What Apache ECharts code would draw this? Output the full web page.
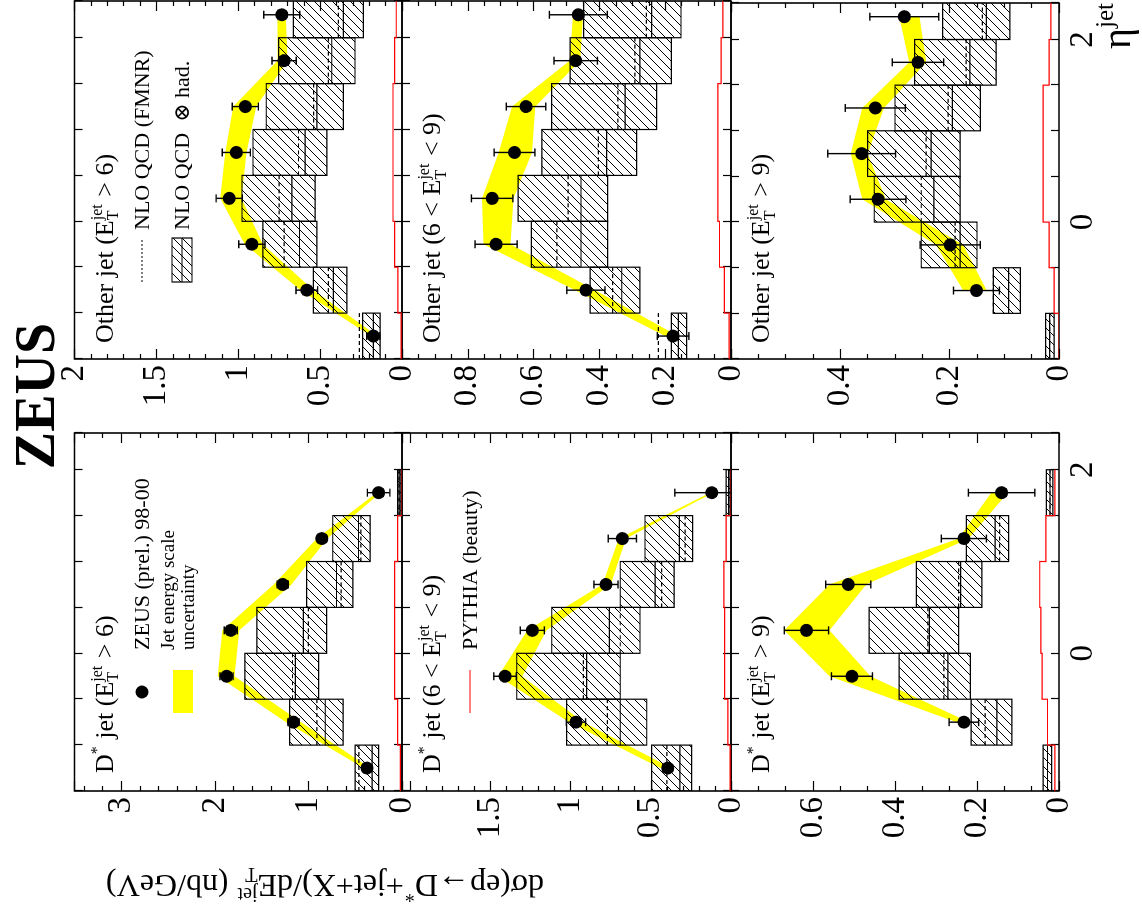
<!DOCTYPE html>
<html>
<head>
<meta charset="utf-8">
<script src="https://cdn.jsdelivr.net/npm/echarts@6/dist/echarts.min.js"></script>
<style>
html, body { margin: 0; padding: 0; background: #fff; overflow: hidden; }
/* the figure is drawn upright (portrait) and turned a quarter turn, like the original */
#wrap { position: absolute; left: 0; top: 0; width: 920px; height: 1142px;
        transform-origin: 0 0; transform: translate(0px, 920px) rotate(-90deg); }
#chart { width: 920px; height: 1142px; }
</style>
</head>
<body>
<div id="wrap"><div id="chart"></div></div>
<script>
var FONT = '"Liberation Serif","DejaVu Serif",serif';

// ---------------- data ----------------
var etaEdges = [-1.5, -1.0, -0.5, 0.0, 0.5, 1.0, 1.5, 2.0, 2.5];
var etaDstar = [-1.25, -0.75, -0.25, 0.25, 0.75, 1.25, 1.75];
var etaOther = [-1.25, -0.75, -0.25, 0.25, 0.75, 1.25, 1.75, 2.25];

// D* jet, E_T > 6
var dj6_val    = [0.375, 1.16, 1.875, 1.83, 1.275, 0.857, 0.25];
var dj6_err    = [0.04, 0.06, 0.07, 0.07, 0.06, 0.05, 0.12];
var dj6_bandLo = [0.34, 1.08, 1.79, 1.74, 1.18, 0.80, 0.23];
var dj6_bandHi = [0.41, 1.24, 1.97, 1.92, 1.37, 0.91, 0.27];
var dj6_nloHi  = [0.50, 1.20, 1.68, 1.55, 1.02, 0.74, 0.047];
var dj6_nloLo  = [0.25, 0.63, 0.89, 0.805, 0.526, 0.34, 0.011];
var dj6_nloMid = [0.32, 0.82, 1.14, 1.055, 0.70, 0.465, 0.03];
var dj6_nloPar = [0.46, 0.91, 1.17, 1.00, 0.65, 0.44, 0.03];
var dj6_pythia = [0.018, 0.047, 0.079, 0.079, 0.079, 0.047, 0.0];

// D* jet, 6 < E_T < 9
var dj69_val    = [0.394, 0.966, 1.408, 1.238, 0.779, 0.677, 0.12];
var dj69_err    = [0.03, 0.06, 0.07, 0.075, 0.075, 0.088, 0.23];
var dj69_bandLo = [0.37, 0.92, 1.30, 1.15, 0.75, 0.655, 0.11];
var dj69_bandHi = [0.44, 1.01, 1.45, 1.27, 0.80, 0.70, 0.13];
var dj69_nloHi  = [0.494, 1.024, 1.335, 1.117, 0.69, 0.536, 0.03];
var dj69_nloLo  = [0.245, 0.525, 0.69, 0.567, 0.355, 0.239, 0.005];
var dj69_nloMid = [0.318, 0.69, 0.90, 0.758, 0.473, 0.322, 0.015];
var dj69_nloPar = [0.40, 0.77, 0.92, 0.69, 0.432, 0.286, 0.015];
var dj69_pythia = [0.005, 0.02, 0.04, 0.04, 0.045, 0.03, 0.0];

// D* jet, E_T > 9
var dj9_val    = [null, 0.232, 0.505, 0.616, 0.514, 0.232, 0.14];
var dj9_err    = [null, 0.036, 0.05, 0.054, 0.055, 0.055, 0.081];
var dj9_bandLo = [null, 0.22, 0.46, 0.56, 0.47, 0.22, 0.125];
var dj9_bandHi = [null, 0.25, 0.56, 0.67, 0.56, 0.245, 0.165];
var dj9_nloHi  = [0.0385, 0.2145, 0.39, 0.463, 0.348, 0.226, 0.031];
var dj9_nloLo  = [0.018, 0.115, 0.216, 0.245, 0.188, 0.123, 0.015];
var dj9_nloMid = [0.028, 0.1515, 0.271, 0.316, 0.24, 0.156, 0.022];
var dj9_nloPar = [0.028, 0.18, 0.281, 0.32, 0.245, 0.145, 0.022];
var dj9_pythia = [0.01, 0.028, 0.041, 0.044, 0.047, 0.032, 0.01];

// other jet, E_T > 6
var oj6_val    = [0.175, 0.581, 0.917, 1.055, 1.012, 0.957, 0.72, 0.734];
var oj6_err    = [0.04, 0.066, 0.08, 0.08, 0.086, 0.08, 0.074, 0.11];
var oj6_bandLo = [0.15, 0.54, 0.85, 0.98, 0.95, 0.89, 0.70, 0.71];
var oj6_bandHi = [0.19, 0.62, 0.96, 1.11, 1.08, 1.03, 0.76, 0.76];
var oj6_nloHi  = [0.24, 0.541, 0.85, 0.977, 0.91, 0.829, 0.754, 0.663];
var oj6_nloLo  = [0.134, 0.337, 0.52, 0.53, 0.459, 0.358, 0.287, 0.236];
var oj6_nloMid = [0.175, 0.419, 0.626, 0.673, 0.591, 0.52, 0.429, 0.358];
var oj6_nloPar = [0.26, 0.45, 0.72, 0.75, 0.632, 0.54, 0.45, 0.388];
var oj6_pythia = [0.005, 0.025, 0.045, 0.055, 0.055, 0.055, 0.045, 0.035];

// other jet, 6 < E_T < 9
var oj69_val    = [0.176, 0.441, 0.714, 0.726, 0.658, 0.623, 0.472, 0.464];
var oj69_err    = [0.048, 0.058, 0.064, 0.063, 0.062, 0.06, 0.066, 0.088];
var oj69_bandLo = [0.16, 0.413, 0.67, 0.661, 0.605, 0.595, 0.458, 0.45];
var oj69_bandHi = [0.20, 0.474, 0.752, 0.757, 0.706, 0.666, 0.49, 0.48];
var oj69_nloHi  = [0.181, 0.428, 0.607, 0.647, 0.575, 0.545, 0.489, 0.448];
var oj69_nloLo  = [0.135, 0.277, 0.375, 0.375, 0.287, 0.226, 0.181, 0.152];
var oj69_nloMid = [0.16, 0.332, 0.456, 0.456, 0.378, 0.322, 0.277, 0.241];
var oj69_nloPar = [0.221, 0.36, 0.529, 0.495, 0.403, 0.344, 0.292, 0.257];
var oj69_pythia = [0.006, 0.02, 0.035, 0.04, 0.04, 0.04, 0.03, 0.025];

// other jet, E_T > 9
var oj9_val    = [null, 0.151, 0.199, 0.331, 0.361, 0.336, 0.258, 0.283];
var oj9_err    = [null, 0.042, 0.055, 0.051, 0.062, 0.055, 0.047, 0.063];
var oj9_bandLo = [null, 0.132, 0.175, 0.317, 0.35, 0.32, 0.243, 0.255];
var oj9_bandHi = [null, 0.175, 0.225, 0.36, 0.381, 0.36, 0.274, 0.292];
var oj9_nloHi  = [0.0245, 0.12, 0.252, 0.338, 0.35, 0.30, 0.264, 0.213];
var oj9_nloLo  = [0.009, 0.0707, 0.15, 0.181, 0.181, 0.144, 0.115, 0.09];
var oj9_nloMid = [0.017, 0.092, 0.181, 0.229, 0.234, 0.195, 0.163, 0.133];
var oj9_nloPar = [0.017, 0.12, 0.19, 0.252, 0.243, 0.203, 0.17, 0.14];
var oj9_pythia = [0.0, 0.009, 0.018, 0.029, 0.029, 0.029, 0.018, 0.015];

// value axis of each panel: [max, label step, minor divisions, hide labels above]
var axD6 = [3.5, 1, 5, 3.2], axD69 = [2.05, 0.5, 5, 1.9], axD9 = [0.8, 0.2, 3, 0.7];
var axO6 = [2.0, 0.5, 5, 9], axO69 = [1.0, 0.2, 4, 0.9], axO9 = [0.6, 0.2, 4, 0.5];

// ---------------- layout (upright figure, px) ----------------
var colLeft = [129, 561], colWidth = [358, 358];
var rowTop = [74.5, 402, 731], rowHeight = [327.5, 329, 328];

var panels = [
  {col: 0, row: 0, eta: etaDstar, val: dj6_val, err: dj6_err, bLo: dj6_bandLo, bHi: dj6_bandHi,
   hi: dj6_nloHi, lo: dj6_nloLo, mid: dj6_nloMid, par: dj6_nloPar, py: dj6_pythia, ax: axD6,
   label: ['D', {sup: '*'}, ' jet (E', {sup: 'jet', sub: 'T'}, ' > 6)']},
  {col: 0, row: 1, eta: etaDstar, val: dj69_val, err: dj69_err, bLo: dj69_bandLo, bHi: dj69_bandHi,
   hi: dj69_nloHi, lo: dj69_nloLo, mid: dj69_nloMid, par: dj69_nloPar, py: dj69_pythia, ax: axD69,
   label: ['D', {sup: '*'}, ' jet (6 < E', {sup: 'jet', sub: 'T'}, ' < 9)']},
  {col: 0, row: 2, eta: etaDstar, val: dj9_val, err: dj9_err, bLo: dj9_bandLo, bHi: dj9_bandHi,
   hi: dj9_nloHi, lo: dj9_nloLo, mid: dj9_nloMid, par: dj9_nloPar, py: dj9_pythia, ax: axD9,
   label: ['D', {sup: '*'}, ' jet (E', {sup: 'jet', sub: 'T'}, ' > 9)']},
  {col: 1, row: 0, eta: etaOther, val: oj6_val, err: oj6_err, bLo: oj6_bandLo, bHi: oj6_bandHi,
   hi: oj6_nloHi, lo: oj6_nloLo, mid: oj6_nloMid, par: oj6_nloPar, py: oj6_pythia, ax: axO6,
   label: ['Other jet (E', {sup: 'jet', sub: 'T'}, ' > 6)']},
  {col: 1, row: 1, eta: etaOther, val: oj69_val, err: oj69_err, bLo: oj69_bandLo, bHi: oj69_bandHi,
   hi: oj69_nloHi, lo: oj69_nloLo, mid: oj69_nloMid, par: oj69_nloPar, py: oj69_pythia, ax: axO69,
   label: ['Other jet (6 < E', {sup: 'jet', sub: 'T'}, ' < 9)']},
  {col: 1, row: 2, eta: etaOther, val: oj9_val, err: oj9_err, bLo: oj9_bandLo, bHi: oj9_bandHi,
   hi: oj9_nloHi, lo: oj9_nloLo, mid: oj9_nloMid, par: oj9_nloPar, py: oj9_pythia, ax: axO9,
   label: ['Other jet (E', {sup: 'jet', sub: 'T'}, ' > 9)']}
];

// hatch pattern "/" for the NLO bands
function makeHatch() {
  var c = document.createElement('canvas');
  c.width = 9; c.height = 9;
  var g = c.getContext('2d');
  g.strokeStyle = '#000'; g.lineWidth = 1;
  g.beginPath(); g.moveTo(-1, 10); g.lineTo(10, -1); g.stroke();
  g.beginPath(); g.moveTo(-1, 1); g.lineTo(1, -1); g.stroke();
  g.beginPath(); g.moveTo(8, 10); g.lineTo(10, 8); g.stroke();
  return c;
}
var HATCH = makeHatch();

// text runs with super/subscripts
var mctx = document.createElement('canvas').getContext('2d');
function tw(t, s) { mctx.font = s + 'px ' + FONT; return mctx.measureText(t).width; }
function txt(x, base, t, s) {
  return {type: 'text', x: x, y: base - 0.3 * s,
    style: {text: t, fontSize: s, fontFamily: FONT, fill: '#000', align: 'left', verticalAlign: 'middle'}};
}
function runs(parts, size) {
  var els = [], x = 0, s2 = Math.round(size * 0.62);
  parts.forEach(function (p) {
    if (typeof p === 'string') { els.push(txt(x, 0, p, size)); x += tw(p, size); return; }
    var w = 0;
    if (p.sup) { els.push(txt(x, -size * 0.42, p.sup, s2)); w = Math.max(w, tw(p.sup, s2)); }
    if (p.sub) { els.push(txt(x, size * 0.2, p.sub, s2)); w = Math.max(w, tw(p.sub, s2)); }
    x += w + 1;
  });
  return {els: els, width: x};
}
function textGroup(x, y, parts, size, align, rot) {
  var r = runs(parts, size);
  var dx = align === 'center' ? -r.width / 2 : (align === 'right' ? -r.width : 0);
  r.els.forEach(function (e) { e.x += dx; });
  return {type: 'group', x: x, y: y, rotation: rot || 0, children: r.els};
}

// ---------------- option ----------------
var grids = [], xAxes = [], yAxes = [], series = [], graphics = [];
var tickStyle = {color: '#000', width: 1.2};

panels.forEach(function (p, i) {
  var left = colLeft[p.col], top = rowTop[p.row];
  grids.push({left: left, top: top, width: colWidth[p.col], height: rowHeight[p.row],
    show: true, borderColor: '#000', borderWidth: 1.6, backgroundColor: 'transparent'});

  var etaBase = {gridIndex: i, type: 'value', min: -1.5, max: 2.4, interval: 0.5,
    axisLine: {show: false, onZero: false}, splitLine: {show: false},
    axisTick: {inside: true, length: 8, lineStyle: tickStyle}};
  xAxes.push(Object.assign({}, etaBase, {position: 'bottom',
    axisLabel: {show: p.row === 2, margin: 8, fontSize: 33, fontFamily: FONT, color: '#000',
      formatter: function (v) { return (Math.abs(v) < 1e-9 || Math.abs(v - 2) < 1e-9) ? String(Math.round(v)) : ''; }}}));
  xAxes.push(Object.assign({}, etaBase, {position: 'top', axisLabel: {show: false}}));

  var ax = p.ax;
  var valBase = {gridIndex: i, type: 'value', min: 0, max: ax[0], interval: ax[1],
    axisLine: {show: false, onZero: false}, splitLine: {show: false},
    axisTick: {inside: true, length: 10, lineStyle: tickStyle},
    minorTick: {show: true, splitNumber: ax[2], length: 5, lineStyle: tickStyle},
    minorSplitLine: {show: false}};
  yAxes.push(Object.assign({}, valBase, {position: 'left',
    axisLabel: {margin: 6, fontSize: 33, fontFamily: FONT, color: '#000',
      formatter: function (v) { return v > ax[3] + 1e-9 ? '' : String(+v.toFixed(2)); }}}));
  yAxes.push(Object.assign({}, valBase, {position: 'right', axisLabel: {show: false}}));

  var xi = 2 * i, yi = 2 * i;

  // jet energy scale band
  series.push({type: 'custom', xAxisIndex: xi, yAxisIndex: yi, silent: true, z: 1, clip: true,
    data: [[p.eta[0], 0]],
    renderItem: function (params, api) {
      var up = [], dn = [];
      p.eta.forEach(function (e, k) {
        if (p.bLo[k] === null) return;
        up.push(api.coord([e, p.bHi[k]]));
        dn.unshift(api.coord([e, p.bLo[k]]));
      });
      return {type: 'polygon', shape: {points: up.concat(dn)}, style: {fill: '#ffff00', stroke: null}};
    }});

  // NLO QCD x had. boxes, central line, NLO (parton) dashed line
  var boxes = p.hi.map(function (h, k) {
    return [etaEdges[k], etaEdges[k + 1], p.lo[k], h, p.mid[k], p.par[k]];
  });
  series.push({type: 'custom', xAxisIndex: xi, yAxisIndex: yi, silent: true, z: 2, clip: true,
    data: boxes,
    renderItem: function (params, api) {
      var e0 = api.value(0), e1 = api.value(1);
      var a = api.coord([e0, api.value(3)]), b = api.coord([e1, api.value(2)]);
      var m0 = api.coord([e0, api.value(4)]), m1 = api.coord([e1, api.value(4)]);
      var d0 = api.coord([e0, api.value(5)]), d1 = api.coord([e1, api.value(5)]);
      return {type: 'group', children: [
        {type: 'rect', shape: {x: a[0], y: a[1], width: b[0] - a[0], height: b[1] - a[1]},
         style: {fill: {image: HATCH, repeat: 'repeat'}, stroke: '#000', lineWidth: 1.2}},
        {type: 'line', shape: {x1: m0[0], y1: m0[1], x2: m1[0], y2: m1[1]},
         style: {stroke: '#000', lineWidth: 1.2}},
        {type: 'line', shape: {x1: d0[0], y1: d0[1], x2: d1[0], y2: d1[1]},
         style: {stroke: '#000', lineWidth: 1.2, lineDash: [4, 3]}}
      ]};
    }});

  // PYTHIA (beauty) step line
  series.push({type: 'custom', xAxisIndex: xi, yAxisIndex: yi, silent: true, z: 3, clip: true,
    data: [[etaEdges[0], 0]],
    renderItem: function (params, api) {
      var pts = [];
      p.py.forEach(function (v, k) {
        pts.push(api.coord([etaEdges[k], v]));
        pts.push(api.coord([etaEdges[k + 1], v]));
      });
      return {type: 'polyline', shape: {points: pts}, style: {stroke: '#ff0000', lineWidth: 1.2, fill: null}};
    }});

  // error bars
  var errData = [];
  p.eta.forEach(function (e, k) { if (p.val[k] !== null) errData.push([e, p.val[k], p.err[k]]); });
  series.push({type: 'custom', xAxisIndex: xi, yAxisIndex: yi, silent: true, z: 4, clip: true,
    data: errData,
    renderItem: function (params, api) {
      var e = api.value(0), v = api.value(1), s = api.value(2);
      var a = api.coord([e, v + s]), b = api.coord([e, v - s]);
      var ls = {stroke: '#000', lineWidth: 1.4};
      return {type: 'group', children: [
        {type: 'line', shape: {x1: a[0], y1: a[1], x2: b[0], y2: b[1]}, style: ls},
        {type: 'line', shape: {x1: a[0] - 4, y1: a[1], x2: a[0] + 4, y2: a[1]}, style: ls},
        {type: 'line', shape: {x1: b[0] - 4, y1: b[1], x2: b[0] + 4, y2: b[1]}, style: ls}
      ]};
    }});

  // data points
  series.push({type: 'scatter', xAxisIndex: xi, yAxisIndex: yi, silent: true, z: 5,
    symbol: 'circle', symbolSize: 13, itemStyle: {color: '#000', opacity: 1},
    data: errData.map(function (d) { return [d[0], d[1]]; })});

  // panel caption
  graphics.push(textGroup(p.col === 0 ? 147 : 577, top + 39, p.label, 26, 'left'));
});

// legends
graphics.push({type: 'circle', shape: {cx: 228, cy: 142, r: 6.5}, style: {fill: '#000'}});
graphics.push(textGroup(270, 150, ['ZEUS (prel.) 98-00'], 22, 'left'));
graphics.push({type: 'rect', shape: {x: 207, y: 173, width: 43, height: 20}, style: {fill: '#ffff00'}});
graphics.push(textGroup(270, 175, ['Jet energy scale'], 19, 'left'));
graphics.push(textGroup(270, 195, ['uncertainty'], 19, 'left'));
graphics.push({type: 'line', shape: {x1: 207, y1: 470, x2: 250, y2: 470}, style: {stroke: '#ff0000', lineWidth: 1.2}});
graphics.push(textGroup(270, 478, ['PYTHIA (beauty)'], 22, 'left'));
graphics.push({type: 'line', shape: {x1: 638, y1: 142, x2: 680, y2: 142}, style: {stroke: '#000', lineWidth: 1, lineDash: [2, 2]}});
graphics.push(textGroup(690, 150, ['NLO QCD (FMNR)'], 22, 'left'));
graphics.push({type: 'rect', shape: {x: 638, y: 172, width: 44, height: 20},
  style: {fill: {image: HATCH, repeat: 'repeat'}, stroke: '#000', lineWidth: 1.2}});
graphics.push({type: 'line', shape: {x1: 638, y1: 182, x2: 682, y2: 182}, style: {stroke: '#000', lineWidth: 1.2}});
graphics.push(textGroup(690, 190, ['NLO QCD  \u2297 had.'], 22, 'left'));

// axis titles and experiment name
graphics.push(textGroup(46, 325, ['d\u03c3(ep\u2192D', {sup: '*'}, '+jet+X)/dE', {sup: 'jet', sub: 'T'}, ' (nb/GeV)'], 32, 'center', Math.PI / 2));
graphics.push(textGroup(918, 1131, ['\u03b7', {sup: 'jet'}], 40, 'right'));
graphics.push({type: 'text', x: 524, y: 40,
  style: {text: 'ZEUS', fontSize: 56, fontWeight: 'bold', fontFamily: FONT, fill: '#000', align: 'center', verticalAlign: 'middle'}});

var chart = echarts.init(document.getElementById('chart'), null, {renderer: 'canvas', width: 920, height: 1142});
chart.setOption({
  animation: false,
  backgroundColor: '#fff',
  grid: grids,
  xAxis: xAxes,
  yAxis: yAxes,
  series: series,
  graphic: graphics
});
</script>
</body>
</html>
